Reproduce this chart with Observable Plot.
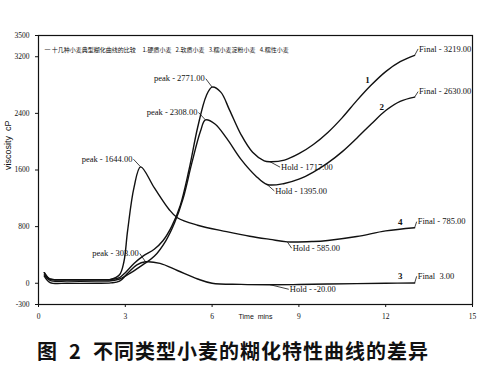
<!DOCTYPE html>
<html>
<head>
<meta charset="utf-8">
<script src="https://cdn.jsdelivr.net/npm/d3@7"></script>
<script src="https://cdn.jsdelivr.net/npm/@observablehq/plot@0.6"></script>
<style>
  html, body { margin: 0; padding: 0; background: #fff; }
  #chart { width: 500px; height: 330px; }
  #caption { width: 500px; height: 44px; box-sizing: border-box; padding-left: 37px; padding-top: 6px;
    font-family: "Noto Sans CJK SC", sans-serif; font-weight: 700; font-size: 20px; letter-spacing: 1px;
    white-space: pre; color: #111; }
</style>
</head>
<body>
<div id="chart"></div>
<div id="caption">图  2  不同类型小麦的糊化特性曲线的差异</div>
<script>
// --- data (time in minutes, viscosity in cP) ---
const t1 = [0.2,0.35,0.5,1,2,2.5,2.8,3,3.3,3.6,4,4.3,4.6,4.9,5.2,5.5,5.8,6.0,6.3,6.6,7.0,7.4,7.8,8.0,8.5,9,9.5,10,10.5,11,11.5,12,12.5,13];
const v1 = [150,70,55,50,50,55,80,150,280,380,480,600,800,1100,1600,2200,2650,2771,2700,2450,2100,1850,1730,1717,1740,1830,1960,2130,2340,2580,2800,2990,3130,3219];

const t2 = [0.2,0.4,1,2,2.5,2.8,3.2,3.6,4,4.4,4.7,5.0,5.3,5.6,5.77,6.1,6.5,7,7.5,7.9,8.5,9,9.5,10,10.5,11,11.5,12,12.5,13];
const v2 = [120,40,30,30,35,60,150,260,380,600,850,1200,1700,2150,2308,2250,2050,1750,1520,1395,1410,1470,1570,1700,1860,2050,2250,2440,2570,2630];

const t3 = [0.2,0.4,1,2,2.5,2.8,3.1,3.4,3.7,4.2,4.8,5.5,6,7,8,9,10,11,12,13];
const v3 = [100,10,0,0,5,30,150,260,303,280,180,60,0,-15,-20,-18,-10,-5,0,3];

const t4 = [0.2,0.4,1,2,2.5,2.8,2.95,3.08,3.3,3.53,4,4.5,4.8,5.5,6.5,7.3,8,8.6,9.5,10,11,12,13];
const v4 = [150,60,50,50,55,120,300,743,1350,1644,1350,1050,925,820,730,665,620,585,590,605,660,740,785];

// annotations: label, curve point (t, v), label position (t, v) in data units
const annLabel = ["peak - 2771.00","peak - 2308.00","peak - 1644.00","peak - 303.00",
                  "Hold - 1717.00","Hold - 1395.00","Hold - 585.00","Hold - -20.00",
                  "Final - 3219.00","Final - 2630.00","Final - 785.00","Final  3.00"];
const annT  = [6.0,5.77,3.53,3.7, 8.0,7.9,8.6,8.0, 13,13,13,13];
const annV  = [2771,2308,1644,303, 1717,1395,585,-20, 3219,2630,785,3];
const labT  = [5.78,5.53,3.28,3.5, 8.35,8.15,8.75,8.65, 13.12,13.12,13.07,13.07];
const labV  = [2890,2412,1753,420, 1640,1305,495,-85, 3310,2707,870,98];
const annSide = ["end","end","end","end","start","start","start","start","start","start","start","start"];

const curveNames = ["1","2","4","3"];
const curveNameT = [11.37,11.86,12.5,12.5];
const curveNameV = [2875,2482,870,98];

const xTicks = [0,3,6,9,12,15];
const yTicks = [-300,0,800,1600,2400,3200,3500];
const legendText = "一 十几种小麦典型糊化曲线的比较     1.硬质小麦   2.软质小麦   3.糯小麦淀粉小麦   4.糯性小麦";

// --- build tables ---
const series = [
  {t: t1, v: v1, id: "1"}, {t: t2, v: v2, id: "2"},
  {t: t3, v: v3, id: "3"}, {t: t4, v: v4, id: "4"}
].flatMap(s => s.t.map((t, i) => ({t, v: s.v[i], id: s.id})));

const ann = annLabel.map((label, i) => ({label, t: annT[i], v: annV[i], lt: labT[i], lv: labV[i], side: annSide[i]}));
const names = curveNames.map((n, i) => ({n, t: curveNameT[i], v: curveNameV[i]}));

const font = "'Liberation Serif', 'DejaVu Serif', serif";

const chart = Plot.plot({
  width: 500,
  height: 330,
  marginLeft: 38,
  marginRight: 28,
  marginTop: 35,
  marginBottom: 26,
  style: {fontFamily: font, fontSize: "7.5px", background: "#fff", color: "#111"},
  x: {domain: [0, 15], ticks: xTicks, tickSize: 3, tickFormat: d => String(d), label: null},
  y: {domain: [-300, 3500], ticks: yTicks, tickSize: 3, tickFormat: d => String(d), label: null},
  marks: [
    Plot.frame({stroke: "#111", strokeWidth: 1.2}),
    Plot.line(series, {x: "t", y: "v", z: "id", stroke: "#111", strokeWidth: 1.4, curve: "catmull-rom"}),
    Plot.link(ann, {x1: "t", y1: "v", x2: "lt", y2: "lv", stroke: "#111", strokeWidth: 0.8}),
    Plot.text(ann.filter(d => d.side === "end"), {x: "lt", y: "lv", text: "label", textAnchor: "end", dx: -1, fontSize: 8.5, fill: "#111"}),
    Plot.text(ann.filter(d => d.side === "start"), {x: "lt", y: "lv", text: "label", textAnchor: "start", dx: 1, fontSize: 8.5, fill: "#111"}),
    Plot.text(names, {x: "t", y: "v", text: "n", fontSize: 9, fontWeight: "bold", fill: "#111"}),
    Plot.text([legendText], {frameAnchor: "top-left", dx: 6, dy: 12, fontSize: 6, fill: "#111", fontFamily: "'Noto Sans CJK SC', sans-serif", textAnchor: "start"}),
    Plot.text(["viscosity  cP"], {frameAnchor: "left", dx: -30, rotate: -90, fontSize: 9, fill: "#111", fontFamily: "'Liberation Sans', sans-serif"}),
    Plot.text(["Time  mins"], {frameAnchor: "bottom", dy: 14, fontSize: 7, fill: "#111", fontFamily: "'Liberation Sans', sans-serif"})
  ]
});
document.getElementById("chart").appendChild(chart);
</script>
</body>
</html>
